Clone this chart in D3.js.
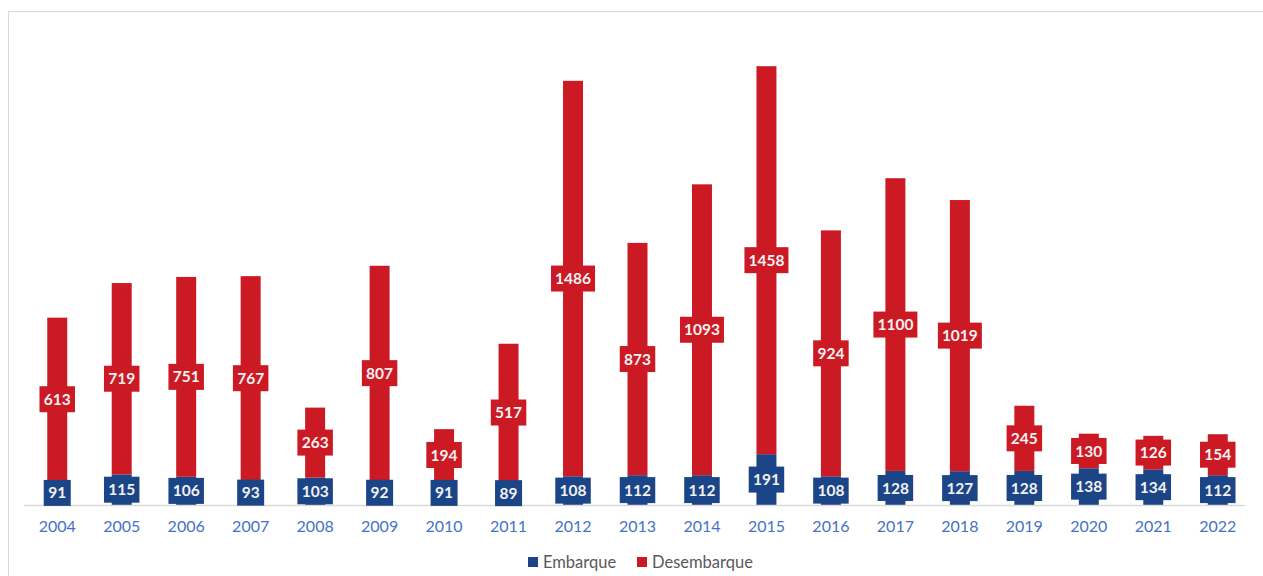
<!DOCTYPE html>
<html>
<head>
<meta charset="utf-8">
<script src="https://cdn.jsdelivr.net/npm/d3@7"></script>
<style>
  html, body { margin: 0; padding: 0; background: #fff; }
  #svg-container { width: 1263px; height: 576px; }
  text { font-family: Lato, "Open Sans", sans-serif; }
</style>
</head>
<body>
<div id="svg-container"></div>
<script>
// data
const years = ["2004","2005","2006","2007","2008","2009","2010","2011","2012","2013",
  "2014","2015","2016","2017","2018","2019","2020","2021","2022"];
const embarque = [91,115,106,93,103,92,91,89,108,112,112,191,108,128,127,128,138,134,112];
const desembarque = [613,719,751,767,263,807,194,517,1486,873,1093,1458,924,1100,1019,245,130,126,154];
const seriesNames = ["Embarque", "Desembarque"];
const colors = ["#1c4587", "#cc1a25"];

////////////////////////////  Init  ///////////////////////////////
const width = 1263, height = 576;
const margin = { top: 26, right: 13, bottom: 71, left: 25 };

const svg = d3.select("#svg-container").append("svg")
  .attr("width", width).attr("height", height);

// chart border
svg.append("rect")
  .attr("x", 8.5).attr("y", 11.5)
  .attr("width", width).attr("height", height)
  .attr("fill", "none").attr("stroke", "#d9d9d9");

const rows = years.map((y, i) => ({ year: y, Embarque: embarque[i], Desembarque: desembarque[i] }));
const stacked = d3.stack().keys(seriesNames)(rows);

const xScale = d3.scaleBand()
  .domain(years)
  .range([margin.left, width - margin.right])
  .paddingInner(0.69).paddingOuter(0.345);

const yScale = d3.scaleLinear()
  .domain([0, 1800])
  .range([height - margin.bottom, margin.top]);

// bars
stacked.forEach((s, si) => {
  svg.append("g").selectAll("rect")
    .data(s)
    .join("rect")
    .attr("x", d => xScale(d.data.year))
    .attr("y", d => yScale(d[1]))
    .attr("width", xScale.bandwidth())
    .attr("height", d => yScale(d[0]) - yScale(d[1]))
    .attr("fill", colors[si]);
});

// baseline
svg.append("line")
  .attr("x1", margin.left - 1).attr("x2", width - margin.right - 5)
  .attr("y1", yScale(0) + 0.5).attr("y2", yScale(0) + 0.5)
  .attr("stroke", "#d9d9d9").attr("stroke-width", 1.5);

// x axis labels
const xAxis = d3.axisBottom(xScale).tickSize(0).tickPadding(16);
svg.append("g")
  .attr("transform", `translate(0,${yScale(0)})`)
  .call(xAxis)
  .call(g => g.select(".domain").remove())
  .selectAll("text")
  .attr("font-family", "Lato, 'Open Sans', sans-serif")
  .attr("font-size", 16)
  .attr("fill", "#4472c4");

// data labels
stacked.forEach((s, si) => {
  const g = svg.append("g").selectAll("g")
    .data(s)
    .join("g")
    .attr("transform", d => `translate(${xScale(d.data.year) + xScale.bandwidth() / 2},${(yScale(d[0]) + yScale(d[1])) / 2})`);
  g.append("rect")
    .attr("x", d => -(String(d.data[s.key]).length * 8.5 + 10) / 2)
    .attr("y", -13)
    .attr("width", d => String(d.data[s.key]).length * 8.5 + 10)
    .attr("height", 26)
    .attr("fill", colors[si]);
  g.append("text")
    .attr("text-anchor", "middle")
    .attr("dy", "0.36em")
    .attr("font-size", 15.5)
    .attr("font-weight", "bold")
    .attr("fill", "#f2f2f2")
    .text(d => d.data[s.key]);
});

// legend
const legendPos = [528, 637];
const legend = svg.append("g").selectAll("g")
  .data(seriesNames)
  .join("g")
  .attr("transform", (d, i) => `translate(${legendPos[i]},562)`);
legend.append("rect")
  .attr("x", 0).attr("y", -5)
  .attr("width", 10).attr("height", 10)
  .attr("fill", (d, i) => colors[i]);
legend.append("text")
  .attr("x", 15).attr("dy", "0.35em")
  .attr("font-size", 16.5)
  .attr("fill", "#595959")
  .text(d => d);
</script>
</body>
</html>
